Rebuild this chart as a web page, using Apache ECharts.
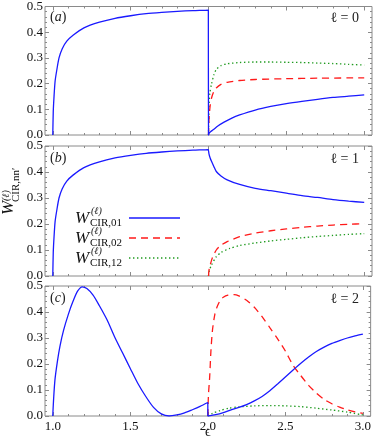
<!DOCTYPE html>
<html>
<head>
<meta charset="utf-8">
<script src="https://cdn.jsdelivr.net/npm/echarts@6/dist/echarts.min.js"></script>
<style>
  html, body { margin: 0; padding: 0; background: #fff; }
  #chart { width: 374px; height: 438px; }
</style>
</head>
<body>
<div id="chart"></div>
<script>
// tick positions / labels
const xMajor = [1.0, 1.5, 2.0, 2.5, 3.0]
const xMinor = [1.1, 1.2, 1.3, 1.4, 1.6, 1.7, 1.8, 1.9, 2.1, 2.2, 2.3, 2.4, 2.6, 2.7, 2.8, 2.9]
const panelTags = ['a', 'b', 'c']
const ellLabels = ['\u2113 = 0', '\u2113 = 1', '\u2113 = 2']
const legendSubs = ['CIR,01', 'CIR,02', 'CIR,12']

// shared rise 1.0 -> 2.0 (panels a, b)
const riseX = [1.0, 1.003, 1.008, 1.015, 1.025, 1.04, 1.06, 1.09, 1.13, 1.2, 1.3, 1.4, 1.5, 1.6, 1.7, 1.8, 1.9, 1.999, 2.0]
const riseY = [0, 0.09, 0.15, 0.21, 0.25, 0.3, 0.335, 0.365, 0.388, 0.417, 0.439, 0.454, 0.464, 0.472, 0.477, 0.481, 0.484, 0.486, 0.487]

// panel (a), l = 0
const a01X = riseX.concat([2.0, 2.005, 2.015, 2.03, 2.06, 2.1, 2.15, 2.2, 2.3, 2.4, 2.5, 2.6, 2.7, 2.8, 2.9, 3.0])
const a01Y = riseY.concat([0, 0.008, 0.014, 0.02, 0.035, 0.05, 0.066, 0.078, 0.097, 0.111, 0.122, 0.131, 0.139, 0.146, 0.151, 0.156])
const a02X = [2.0, 2.003, 2.01, 2.02, 2.035, 2.05, 2.08, 2.12, 2.2, 2.3, 2.5, 2.7, 2.9, 3.0]
const a02Y = [0, 0.06, 0.11, 0.145, 0.17, 0.183, 0.197, 0.205, 0.212, 0.216, 0.219, 0.221, 0.222, 0.222]
const a12X = [2.0, 2.003, 2.008, 2.02, 2.035, 2.05, 2.08, 2.12, 2.2, 2.3, 2.4, 2.5, 2.6, 2.7, 2.8, 2.9, 3.0]
const a12Y = [0, 0.1, 0.16, 0.2, 0.235, 0.255, 0.27, 0.277, 0.282, 0.284, 0.284, 0.283, 0.282, 0.28, 0.278, 0.275, 0.272]

// panel (b), l = 1
const b01X = riseX.concat([2.003, 2.01, 2.02, 2.035, 2.05, 2.08, 2.12, 2.2, 2.3, 2.4, 2.5, 2.6, 2.7, 2.8, 2.9, 3.0])
const b01Y = riseY.concat([0.47, 0.455, 0.44, 0.42, 0.402, 0.385, 0.37, 0.352, 0.337, 0.328, 0.319, 0.309, 0.302, 0.294, 0.288, 0.283])
const b02X = [2.0, 2.005, 2.012, 2.025, 2.05, 2.08, 2.12, 2.2, 2.3, 2.4, 2.5, 2.6, 2.7, 2.8, 2.9, 3.0]
const b02Y = [0, 0.03, 0.045, 0.07, 0.1, 0.118, 0.132, 0.151, 0.165, 0.174, 0.181, 0.187, 0.192, 0.196, 0.199, 0.201]
const b12X = [2.0, 2.005, 2.019, 2.05, 2.08, 2.136, 2.2, 2.3, 2.4, 2.5, 2.6, 2.7, 2.8, 2.9, 3.0]
const b12Y = [0, 0.02, 0.042, 0.074, 0.09, 0.106, 0.117, 0.127, 0.135, 0.141, 0.147, 0.152, 0.156, 0.16, 0.163]

// panel (c), l = 2
const c01X = [1.0, 1.005, 1.014, 1.03, 1.046, 1.07, 1.1, 1.13, 1.16, 1.19, 1.22, 1.26, 1.3, 1.35, 1.4, 1.45, 1.5, 1.55, 1.6, 1.65, 1.7, 1.75, 1.8, 1.85, 1.9, 1.95, 2.0,
  2.0, 2.05, 2.1, 2.15, 2.2, 2.25, 2.3, 2.35, 2.4, 2.45, 2.5, 2.55, 2.6, 2.65, 2.7, 2.75, 2.8, 2.85, 2.9, 2.95, 3.0]
const c01Y = [0, 0.06, 0.138, 0.21, 0.267, 0.33, 0.39, 0.44, 0.48, 0.497, 0.49, 0.465, 0.425, 0.37, 0.303, 0.243, 0.183, 0.124, 0.075, 0.033, 0.008, 0, 0.004, 0.012, 0.024, 0.037, 0.052,
  0, 0.005, 0.013, 0.024, 0.033, 0.044, 0.058, 0.075, 0.097, 0.123, 0.15, 0.177, 0.203, 0.227, 0.248, 0.265, 0.279, 0.29, 0.3, 0.308, 0.315]
const c02X = [2.0, 2.004, 2.012, 2.02, 2.03, 2.045, 2.06, 2.08, 2.1, 2.13, 2.17, 2.2, 2.25, 2.3, 2.35, 2.4, 2.45, 2.5, 2.55, 2.6, 2.65, 2.7, 2.75, 2.8, 2.85, 2.9, 2.95, 3.0]
const c02Y = [0, 0.08, 0.15, 0.25, 0.33, 0.39, 0.42, 0.445, 0.457, 0.465, 0.467, 0.462, 0.445, 0.418, 0.382, 0.34, 0.297, 0.25, 0.195, 0.155, 0.118, 0.088, 0.064, 0.047, 0.034, 0.024, 0.016, 0.01]
const c12X = [2.0, 2.03, 2.08, 2.136, 2.2, 2.3, 2.4, 2.5, 2.6, 2.7, 2.8, 2.9, 3.0]
const c12Y = [0, 0.01, 0.021, 0.03, 0.035, 0.039, 0.04, 0.039, 0.036, 0.03, 0.023, 0.015, 0.004]

const FONT = "'Liberation Serif', 'DejaVu Serif', serif"
const BLUE = '#1a1aff'
const RED = '#ff1a1a'
const GREEN = '#1f9a1f'
const FRAME = '#8a8a8a'
const styles = [
  { color: BLUE, type: 'solid' },
  { color: RED, type: [7, 5] },
  { color: GREEN, type: [1.4, 2.6] }
]
const panelData = [
  [[a01X, a01Y], [a02X, a02Y], [a12X, a12Y]],
  [[b01X, b01Y], [b02X, b02Y], [b12X, b12Y]],
  [[c01X, c01Y], [c02X, c02Y], [c12X, c12Y]]
]
const gridTops = [5, 146, 286]

function zip(xs, ys) {
  return xs.map((x, i) => [x, ys[i]])
}

const grid = []
const xAxis = []
const yAxis = []
const series = []
const graphic = []

gridTops.forEach((top, g) => {
  grid.push({ left: 45, width: 327, top: top, height: 130, show: true, borderColor: FRAME, borderWidth: 1, backgroundColor: 'transparent' })

  const xBase = { type: 'value', gridIndex: g, min: 0.95, max: 3.05, splitLine: { show: false },
    axisLine: { show: false, onZero: false } }
  const firstX = xAxis.length
  ;['bottom', 'top'].forEach(pos => {
    xAxis.push(Object.assign({}, xBase, {
      position: pos,
      axisTick: { show: true, inside: true, length: 4, lineStyle: { color: FRAME }, customValues: xMajor },
      axisLabel: {
        show: pos === 'bottom' && g === 2, customValues: xMajor, margin: 4,
        fontFamily: FONT, fontSize: 13, color: '#111', formatter: v => v.toFixed(1)
      }
    }))
    xAxis.push(Object.assign({}, xBase, {
      position: pos,
      axisTick: { show: true, inside: true, length: 2, lineStyle: { color: FRAME }, customValues: xMinor },
      axisLabel: { show: false }
    }))
  })

  const firstY = yAxis.length
  ;['left', 'right'].forEach(pos => {
    yAxis.push({
      type: 'value', gridIndex: g, position: pos, min: 0, max: 0.5, interval: 0.1,
      splitLine: { show: false }, axisLine: { show: false, onZero: false },
      axisTick: { show: true, inside: true, length: 4, lineStyle: { color: FRAME } },
      minorTick: { show: true, splitNumber: 5, length: 2, lineStyle: { color: FRAME } },
      axisLabel: {
        show: pos === 'left', margin: 2, fontFamily: FONT, fontSize: 13, color: '#111',
        formatter: v => v.toFixed(1)
      }
    })
  })

  panelData[g].forEach((d, k) => {
    series.push({
      type: 'line', xAxisIndex: firstX, yAxisIndex: firstY,
      data: zip(d[0], d[1]), showSymbol: false, symbol: 'none', animation: false,
      smooth: 0.25,
      lineStyle: { color: styles[k].color, width: 1.3, type: styles[k].type },
      z: 3 - k
    })
  })

  graphic.push({
    type: 'text', left: 50, top: top + 5,
    style: { text: '({i|' + panelTags[g] + '})', fontFamily: FONT, fontSize: 14, fill: '#222',
      rich: { i: { fontStyle: 'italic', fontFamily: FONT, fontSize: 14 } } }
  })
  graphic.push({
    type: 'text', right: 15, top: top + 6,
    style: { text: ellLabels[g], fontFamily: FONT, fontSize: 14, fill: '#222' }
  })
})

// legend inside panel (b)
const legendRows = [218, 238, 258]
legendRows.forEach((y, k) => {
  graphic.push({ type: 'text', x: 75, y: y + 1, style: { text: 'W', fontFamily: FONT, fontSize: 17, fontStyle: 'italic', fill: '#111', verticalAlign: 'middle' } })
  graphic.push({ type: 'text', x: 91, y: y - 7, style: { text: '(\u2113)', fontFamily: FONT, fontSize: 10, fontStyle: 'italic', fill: '#111', verticalAlign: 'middle' } })
  graphic.push({ type: 'text', x: 90, y: y + 5, style: { text: legendSubs[k], fontFamily: FONT, fontSize: 11, fill: '#111', verticalAlign: 'middle' } })
  graphic.push({ type: 'line', shape: { x1: 129, y1: y, x2: 180, y2: y },
    style: { stroke: styles[k].color, lineWidth: 1.4, lineDash: styles[k].type === 'solid' ? null : styles[k].type } })
})

// rotated y-axis title
graphic.push({
  type: 'group', x: 0, y: 215, rotation: Math.PI / 2,
  children: [
    { type: 'text', x: 0, y: 9, style: { text: 'W', fontFamily: FONT, fontSize: 17, fontStyle: 'italic', fill: '#111', verticalAlign: 'middle' } },
    { type: 'text', x: 14, y: 6, style: { text: '(\u2113)', fontFamily: FONT, fontSize: 10, fontStyle: 'italic', fill: '#111', verticalAlign: 'middle' } },
    { type: 'text', x: 13, y: 16, style: { text: 'CIR,nn\u2032', fontFamily: FONT, fontSize: 11, fill: '#111', verticalAlign: 'middle' } }
  ]
})

// x-axis title
graphic.push({ type: 'text', x: 205, y: 425, style: { text: '\u03f5', fontFamily: FONT, fontSize: 14, fill: '#111' } })

const chart = echarts.init(document.getElementById('chart'))
chart.setOption({
  animation: false,
  grid: grid,
  xAxis: xAxis,
  yAxis: yAxis,
  series: series,
  graphic: graphic
})
</script>
</body>
</html>
